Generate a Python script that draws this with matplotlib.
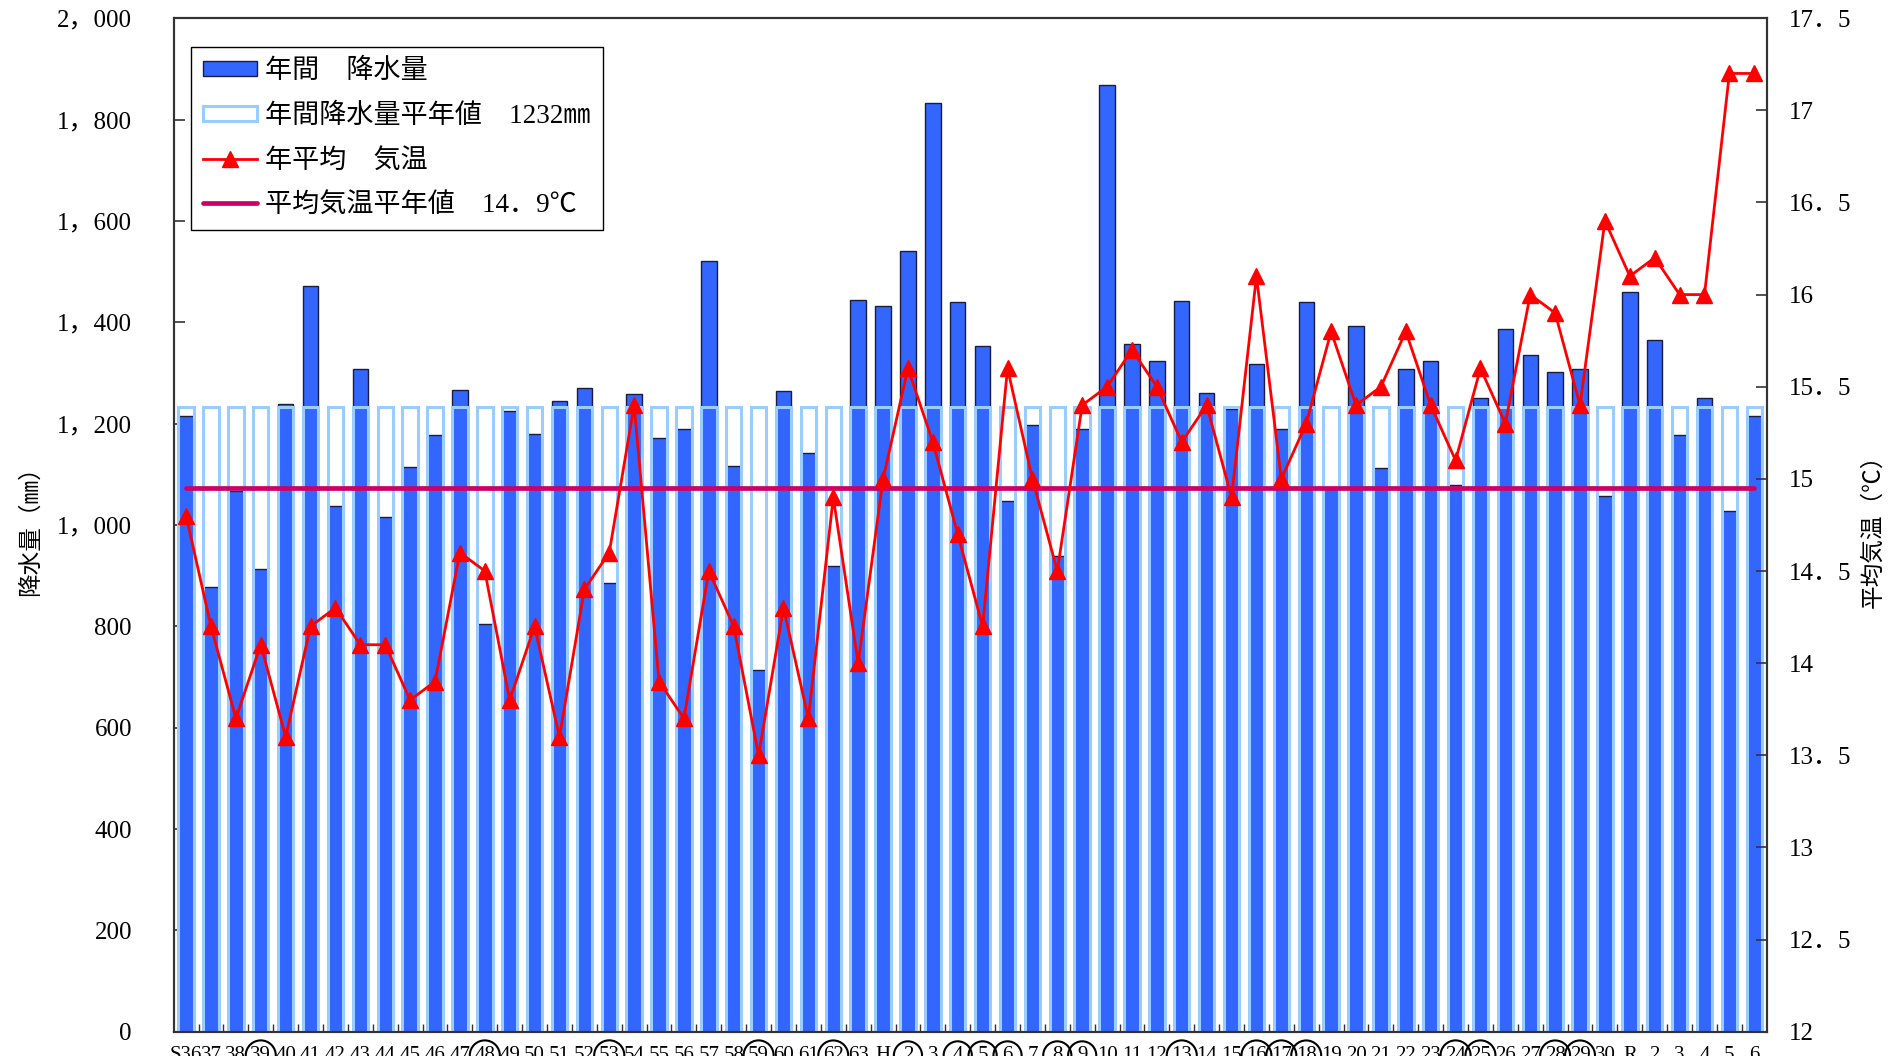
import matplotlib
matplotlib.use("Agg")
import matplotlib.pyplot as plt
import matplotlib.transforms as mtransforms
from matplotlib.patches import Patch
from matplotlib.lines import Line2D
import numpy as np

plt.rcParams['font.family'] = ['Liberation Serif', 'Noto Sans CJK JP']

# era year labels S36..S63, H1..H30, R1..R6
years = ([f"S{y}" for y in range(36, 64)] + [f"H{y}" for y in range(1, 31)]
         + [f"R{y}" for y in range(1, 7)])

# annual precipitation (mm)
precip = [1215, 878, 1066, 914, 1239, 1472, 1037, 1308, 1015, 1115,
          1178, 1267, 805, 1224, 1180, 1245, 1270, 885, 1258, 1171,
          1190, 1521, 1117, 713, 1265, 1142, 918, 1443, 1432, 1540,
          1832, 1439, 1354, 1047, 1198, 938, 1189, 1869, 1358, 1324,
          1442, 1261, 1228, 1317, 1190, 1439, 1070, 1393, 1112, 1307,
          1324, 1079, 1251, 1387, 1335, 1301, 1308, 1057, 1460, 1364,
          1178, 1251, 1028, 1214]

# annual mean temperature (deg C)
temp = [14.8, 14.2, 13.7, 14.1, 13.6, 14.2, 14.3, 14.1, 14.1, 13.8,
        13.9, 14.6, 14.5, 13.8, 14.2, 13.6, 14.4, 14.6, 15.4, 13.9,
        13.7, 14.5, 14.2, 13.5, 14.3, 13.7, 14.9, 14.0, 15.0, 15.6,
        15.2, 14.7, 14.2, 15.6, 15.0, 14.5, 15.4, 15.5, 15.7, 15.5,
        15.2, 15.4, 14.9, 16.1, 15.0, 15.3, 15.8, 15.4, 15.5, 15.8,
        15.4, 15.1, 15.6, 15.3, 16.0, 15.9, 15.4, 16.4, 16.1, 16.2,
        16.0, 16.0, 17.2, 17.2]

precip_normal = 1232
temp_normal_line = 14.95  # drawn position of the normal line
temp_normal_label = "14．9"

circled = ["S39", "S48", "S53", "S59", "S62", "H2", "H4", "H5", "H6", "H8",
           "H9", "H13", "H16", "H17", "H18", "H24", "H25", "H28", "H29"]

BLUE = '#3366FF'
DARK = '#1C1C3C'
LIGHT = '#99CCFF'
RED = '#FF0000'
MAGENTA = '#CC0066'

fig = plt.figure(figsize=(19.04, 10.56), dpi=100)
ax = fig.add_axes([0.0912, 0.0230, 0.8367, 0.9598])
ax2 = ax.twinx()

x = np.arange(len(years))
w = 0.62
ax.bar(x, [precip_normal] * len(x), width=w, color='white', edgecolor='none', zorder=1)
ax.bar(x, precip, width=w, color=BLUE, edgecolor=DARK, linewidth=1.0, zorder=2)
ax.bar(x, [precip_normal] * len(x), width=w, color='none', edgecolor=LIGHT,
       linewidth=2.2, zorder=3)

ax.set_xlim(-0.5, len(x) - 0.5)
ax.set_ylim(0, 2000)
ax.set_yticks(range(0, 2001, 200))
ax.set_yticklabels([f"{v:,}".replace(",", "，") for v in range(0, 2001, 200)], fontsize=18)
ax.set_xticks(np.arange(0.5, len(x) - 1, 1.0))
ax.set_xticklabels([])
ax.tick_params(axis='x', direction='in', length=6, width=1, color='#333333')
ax.tick_params(axis='y', direction='in', length=8, width=1.2, pad=30, color='#333333')
ax.set_ylabel("降水量（㎜）", fontsize=17)
ax.yaxis.set_label_coords(-0.083, 0.5)

ax2.plot([0, len(x) - 1], [temp_normal_line] * 2, color=MAGENTA, lw=3.4,
         solid_capstyle='round', zorder=4)
ax2.plot(x, temp, color=RED, lw=2.0, marker='^', markersize=11, zorder=5)
ax2.set_ylim(12, 17.5)
rt = np.arange(12, 17.51, 0.5)
ax2.set_yticks(rt)
ax2.set_yticklabels([f"{v:g}".replace(".", "．") for v in rt], fontsize=18)
ax2.tick_params(axis='y', direction='in', length=8, width=1.2, pad=16, color='#333333')
ax2.set_ylabel("平均気温（℃）", fontsize=17, rotation=90)
ax2.yaxis.set_label_coords(1.06, 0.5)

for a in (ax, ax2):
    for s in a.spines.values():
        s.set_color('#333333')
        s.set_linewidth(1.5)

# x labels (partly cut by the figure edge, as in the reference)
trans = mtransforms.blended_transform_factory(ax.transData, ax.transAxes)
for i, y in enumerate(years):
    era, num = y[0], y[1:]
    if y == "S36":
        lab = "S36"
    elif num == "1":
        lab = era
    else:
        lab = num
    kw = {}
    if y in circled:
        kw['bbox'] = dict(boxstyle='circle,pad=0.22', fc='none', ec='black', lw=1.5)
    ax.text(i, -0.014, lab, transform=trans, ha='center', va='top', fontsize=15,
            clip_on=False, **kw)

handles = [
    Patch(facecolor=BLUE, edgecolor=DARK, linewidth=1.0),
    Patch(facecolor='white', edgecolor=LIGHT, linewidth=2.2),
    Line2D([], [], color=RED, lw=2.0, marker='^', markersize=11),
    Line2D([], [], color=MAGENTA, lw=3.4, solid_capstyle='round'),
]
labels = ["年間　降水量", "年間降水量平年値　1232㎜", "年平均　気温",
          f"平均気温平年値　{temp_normal_label}℃"]
leg = ax2.legend(handles, labels, loc='upper left', bbox_to_anchor=(0.0109, 0.9716),
                 borderaxespad=0, fontsize=19.5, frameon=True, fancybox=False,
                 edgecolor='black', framealpha=1, handlelength=2.0, handleheight=0.5,
                 handletextpad=0.3, labelspacing=0.72, borderpad=0.45)
leg.get_frame().set_linewidth(1.0)

fig.savefig("out.png", dpi=100)
